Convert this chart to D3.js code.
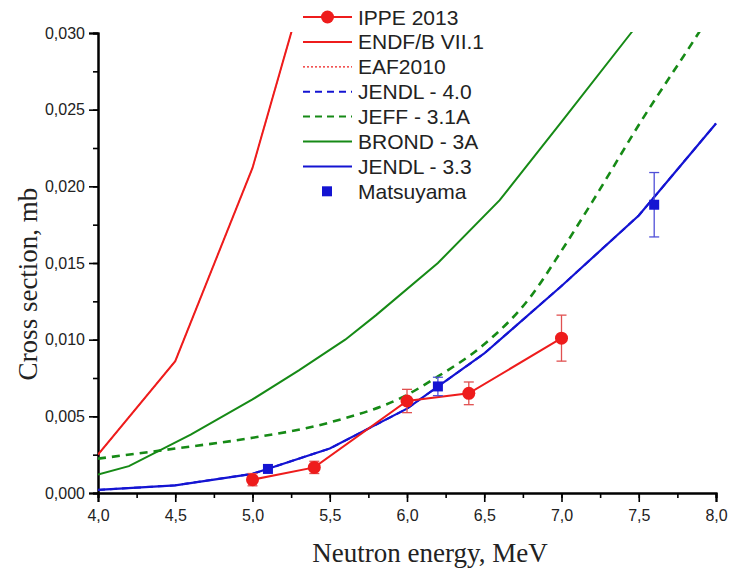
<!DOCTYPE html>
<html><head><meta charset="utf-8">
<script src="https://cdn.jsdelivr.net/npm/d3@7"></script>
<style>body{margin:0;background:#fff}svg{display:block}</style>
</head><body>
<svg id="c" width="729" height="568"></svg>
<script>
// ---- data ----
const xTicks = [4.0,4.5,5.0,5.5,6.0,6.5,7.0,7.5,8.0];
const yTicks = [0,0.005,0.010,0.015,0.020,0.025,0.030];
const endf = [[4.0,0.0025],[4.5,0.0086],[5.0,0.0212],[5.5,0.0388]];
const eaf = [[4.0,0.0025],[4.5,0.0086],[5.0,0.0212],[5.5,0.0388]];
const jendl40 = [[4.0,0.0002],[4.5,0.0005],[5.0,0.00125],[5.5,0.0029],[6.0,0.0055],[6.5,0.0091],[7.0,0.0135],[7.5,0.0181],[8.0,0.0241]];
const jeff = [[4.0,0.00224],[4.5,0.0029],[5.0,0.0036],[5.5,0.0046],[6.0,0.0064],[6.2,0.0076],[6.5,0.0097],[6.8,0.0128],[7.0,0.0158],[7.2,0.0190],[7.5,0.0240],[7.9,0.0302],[8.0,0.0318]];
const brond = [[4.0,0.0012],[4.2,0.00175],[4.6,0.0038],[5.0,0.0061],[5.3,0.0080],[5.6,0.0100],[5.8,0.0116],[6.2,0.0150],[6.6,0.0191],[7.0,0.0242],[7.45,0.0300],[7.6,0.0320]];
const jendl33 = [[4.0,0.0002],[4.5,0.0005],[5.0,0.00125],[5.5,0.0029],[6.0,0.0055],[6.5,0.0091],[7.0,0.0135],[7.5,0.0181],[8.0,0.0241]];
const ippeE = [5.0,5.4,6.0,6.4,7.0];
const ippeV = [0.00087,0.00167,0.0060,0.0065,0.0101];
const ippeErr = [0.0004,0.0004,0.00076,0.00074,0.0015];
const matsE = [5.1,6.2,7.6];
const matsV = [0.00157,0.00695,0.0188];
const matsErr = [0,0.0006,0.0021];
const legendLabels = ["IPPE 2013","ENDF/B VII.1","EAF2010","JENDL - 4.0","JEFF - 3.1A","BROND - 3A","JENDL - 3.3","Matsuyama"];

const RED="#ee1c1c", GREEN="#168a16", BLUE="#1414d2";
const svg = d3.select("#c");
const L=98,R=716,T=33,B=493;
const x = d3.scaleLinear().domain([4,8]).range([L,R]);
const y = d3.scaleLinear().domain([0,0.030]).range([B,T]);
const fmt = d => d3.format(".3f")(d).replace(".",",");
const fmtx = d => d3.format(".1f")(d).replace(".",",");

svg.append("defs").append("clipPath").attr("id","clip")
  .append("rect").attr("x",L).attr("y",T-1).attr("width",R-L+2).attr("height",B-T+1);

// axes
const gx = svg.append("g").attr("transform",`translate(0,${B})`);
gx.call(d3.axisBottom(x).tickValues(d3.range(4,8.001,0.25)).tickSize(5).tickFormat(""));
gx.append("g").call(d3.axisBottom(x).tickValues(xTicks).tickSize(9).tickFormat(fmtx));
const gy = svg.append("g").attr("transform",`translate(${L},0)`);
gy.call(d3.axisLeft(y).tickValues(d3.range(0,0.03001,0.0025)).tickSize(5).tickFormat(""));
gy.append("g").call(d3.axisLeft(y).tickValues(yTicks).tickSize(9).tickFormat(fmt));
svg.selectAll(".domain").attr("stroke","#000").attr("stroke-width",2);
svg.selectAll(".tick line").attr("stroke","#000").attr("stroke-width",1.6);
svg.selectAll(".tick text").attr("font-family","Liberation Sans, Arial, sans-serif").attr("font-size",16).attr("fill","#222");
gx.selectAll(".tick text").attr("dy","1.0em");
gy.selectAll(".tick text").attr("dx","-1");

svg.append("text").attr("x",430).attr("y",562).attr("text-anchor","middle")
  .attr("font-family","Liberation Serif, Times New Roman, serif").attr("font-size",27).attr("fill","#222")
  .text("Neutron energy, MeV");
svg.append("text").attr("transform","translate(37,284) rotate(-90)").attr("text-anchor","middle")
  .attr("font-family","Liberation Serif, Times New Roman, serif").attr("font-size",27).attr("fill","#222")
  .text("Cross section, mb");

const plot = svg.append("g").attr("clip-path","url(#clip)");
const line = d3.line().x(d=>x(d[0])).y(d=>y(d[1]));
const smooth = d3.line().x(d=>x(d[0])).y(d=>y(d[1])).curve(d3.curveMonotoneX);
const series = [
  {d:eaf,c:RED,dash:"2,2",w:1.2,g:line},
  {d:endf,c:RED,dash:null,w:2,g:line},
  {d:jendl40,c:BLUE,dash:"7,5",w:2,g:line},
  {d:jeff,c:GREEN,dash:"8,6",w:2.6,g:smooth},
  {d:brond,c:GREEN,dash:null,w:2,g:line},
  {d:jendl33,c:BLUE,dash:null,w:2.2,g:line}
];
series.forEach(s=>{
  plot.append("path").attr("d",s.g(s.d)).attr("fill","none").attr("stroke",s.c)
    .attr("stroke-width",s.w).attr("stroke-dasharray",s.dash);
});

// IPPE
const ippe = ippeE.map((e,i)=>[e,ippeV[i],ippeErr[i]]);
plot.append("path").attr("d",line(ippe)).attr("fill","none").attr("stroke",RED).attr("stroke-width",2);
ippe.forEach(p=>{
  const g=plot.append("g").attr("stroke","#e05050").attr("stroke-width",1.3);
  g.append("line").attr("x1",x(p[0])).attr("x2",x(p[0])).attr("y1",y(p[1]-p[2])).attr("y2",y(p[1]+p[2]));
  [p[1]-p[2],p[1]+p[2]].forEach(v=>g.append("line").attr("x1",x(p[0])-5).attr("x2",x(p[0])+5).attr("y1",y(v)).attr("y2",y(v)));
});
plot.selectAll(".ip").data(ippe).enter().append("circle").attr("cx",d=>x(d[0])).attr("cy",d=>y(d[1])).attr("r",6.5).attr("fill",RED);

// Matsuyama
const mats = matsE.map((e,i)=>[e,matsV[i],matsErr[i]]);
mats.filter(p=>p[2]>0).forEach(p=>{
  const g=plot.append("g").attr("stroke","#5050d8").attr("stroke-width",1.3);
  g.append("line").attr("x1",x(p[0])).attr("x2",x(p[0])).attr("y1",y(p[1]-p[2])).attr("y2",y(p[1]+p[2]));
  [p[1]-p[2],p[1]+p[2]].forEach(v=>g.append("line").attr("x1",x(p[0])-5).attr("x2",x(p[0])+5).attr("y1",y(v)).attr("y2",y(v)));
});
plot.selectAll(".ms").data(mats).enter().append("rect").attr("x",d=>x(d[0])-5).attr("y",d=>y(d[1])-5).attr("width",10).attr("height",10).attr("fill",BLUE);

// legend
const lg = svg.append("g").attr("font-family","Liberation Sans, Arial, sans-serif").attr("font-size",21).attr("fill","#222");
const lstyle = [
  {c:RED,dash:null,w:2,m:"circle"},
  {c:RED,dash:null,w:2},
  {c:RED,dash:"2,2",w:1.2},
  {c:BLUE,dash:"7,5",w:2},
  {c:GREEN,dash:"7,5",w:2},
  {c:GREEN,dash:null,w:2},
  {c:BLUE,dash:null,w:2},
  {c:BLUE,m:"square",noline:true}
];
legendLabels.forEach((t,i)=>{
  const yy = 17 + i*24.9;
  const s = lstyle[i];
  if(!s.noline) lg.append("line").attr("x1",303).attr("x2",352).attr("y1",yy).attr("y2",yy)
    .attr("stroke",s.c).attr("stroke-width",s.w).attr("stroke-dasharray",s.dash);
  if(s.m==="circle") lg.append("circle").attr("cx",327.5).attr("cy",yy).attr("r",6.5).attr("fill",s.c);
  if(s.m==="square") lg.append("rect").attr("x",322).attr("y",yy-5).attr("width",10).attr("height",10).attr("fill",s.c);
  lg.append("text").attr("x",358).attr("y",yy).attr("dy","0.36em").text(t);
});
</script>
</body></html>
